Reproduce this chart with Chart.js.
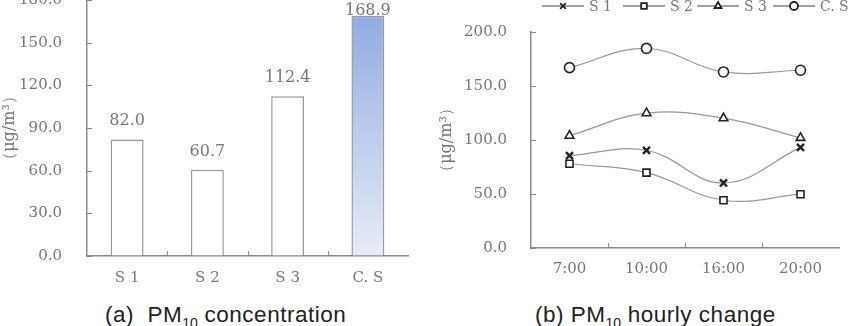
<!DOCTYPE html>
<html>
<head>
<meta charset="utf-8">
<script src="https://cdn.jsdelivr.net/npm/chart.js@4/dist/chart.umd.min.js"></script>
<style>
  body { margin: 0; background: #fff; width: 860px; height: 326px; overflow: hidden; position: relative; font-family: "Liberation Sans", Arial, sans-serif; }
  .box { position: absolute; width: 430px; height: 300px; }
  #boxA { left: 0; top: -12px; }
  #boxB { left: 430px; top: 0; }
  .cap { position: absolute; top: 304px; font-size: 22.5px; line-height: 22px; letter-spacing: 0.5px; color: #222; white-space: nowrap; }
  .cap sub { font-size: 14px; line-height: 0; letter-spacing: 0; }
</style>
</head>
<body>
<div class="box" id="boxA"><canvas id="barChart" width="430" height="300"></canvas></div>
<div class="box" id="boxB"><canvas id="lineChart" width="430" height="300"></canvas></div>
<div class="cap" style="left:105px">(a)&nbsp; PM<sub>10</sub> concentration</div>
<div class="cap" style="left:535px">(b) PM<sub>10</sub> hourly change</div>
<script>
// data
const sites = ["S 1", "S 2", "S 3", "C. S"]
const meanPM10 = [82.0, 60.7, 112.4, 168.9]
const hours = ["7:00", "10:00", "16:00", "20:00"]
const s1 = [85.5, 90.5, 60.2, 93.2]
const s2 = [78.0, 69.8, 44.2, 49.8]
const s3 = [104.0, 124.8, 120.2, 102.0]
const cs = [167.0, 184.8, 163.0, 164.6]
const seriesNames = ["S 1", "S 2", "S 3", "C. S"]

const tickFont = { family: "'DejaVu Serif', serif", size: 15 }
const grey = "#777"
const axisGrey = "#8a8a8a"
const unit = "（μg/m³）"

// short tick marks pointing into the plot, like the original
const innerTicks = {
  id: "innerTicks",
  afterDraw(chart) {
    const { ctx, chartArea: a } = chart
    const x = chart.scales.x, y = chart.scales.y
    ctx.save()
    ctx.strokeStyle = axisGrey
    ctx.lineWidth = 1
    ctx.beginPath()
    y.ticks.forEach((t, i) => {
      const py = Math.round(y.getPixelForTick(i)) + 0.5
      ctx.moveTo(a.left, py)
      ctx.lineTo(a.left + 5, py)
    })
    for (let i = 1; i < x.ticks.length; i++) {
      const px = Math.round((x.getPixelForTick(i - 1) + x.getPixelForTick(i)) / 2) + 0.5
      ctx.moveTo(px, a.bottom)
      ctx.lineTo(px, a.bottom - 5)
    }
    ctx.stroke()
    ctx.restore()
  }
}

// value labels above the bars
const barValues = {
  id: "barValues",
  afterDatasetsDraw(chart) {
    const { ctx } = chart
    const meta = chart.getDatasetMeta(0)
    ctx.save()
    ctx.font = "16px 'DejaVu Serif', serif"
    ctx.fillStyle = grey
    ctx.textAlign = "center"
    ctx.textBaseline = "alphabetic"
    meta.data.forEach((bar, i) => {
      const y = Math.max(bar.y - 14, 27)
      ctx.fillText(meanPM10[i].toFixed(1), bar.x, y)
    })
    ctx.restore()
  }
}

// legend: line with marker, then name
const lineLegend = {
  id: "lineLegend",
  afterDraw(chart) {
    const { ctx } = chart
    const starts = [112, 193, 267, 343]
    const y = 6
    ctx.save()
    chart.data.datasets.forEach((ds, i) => {
      const x0 = starts[i]
      ctx.strokeStyle = "#444"
      ctx.lineWidth = 1.2
      ctx.beginPath()
      ctx.moveTo(x0, y)
      ctx.lineTo(x0 + 42, y)
      ctx.stroke()
      ctx.strokeStyle = "#222"
      ctx.fillStyle = "#fff"
      ctx.lineWidth = 1.8
      if (Chart.helpers && Chart.helpers.drawPoint) {
        Chart.helpers.drawPoint(ctx, { pointStyle: ds.pointStyle, rotation: 0, radius: 4, borderWidth: 1.8 }, x0 + 21, y)
      }
      ctx.fillStyle = grey
      ctx.font = "14px 'DejaVu Serif', serif"
      ctx.textAlign = "left"
      ctx.textBaseline = "middle"
      ctx.fillText(ds.label, x0 + 47, y + 1)
    })
    ctx.restore()
  }
}

const yTitle = { display: true, text: unit, color: grey, font: { family: "'DejaVu Serif', serif", size: 16 }, padding: 0 }
// invisible tick marks push the labels away from the axis
const hiddenGrid = (len) => ({ display: true, drawOnChartArea: false, drawTicks: true, tickLength: len, tickColor: "rgba(0,0,0,0)" })

new Chart(document.getElementById("barChart").getContext("2d"), {
  type: "bar",
  data: {
    labels: sites,
    datasets: [{
      data: meanPM10,
      backgroundColor: (c) => {
        if (c.dataIndex !== 3) return "#fff"
        const a = c.chart.chartArea
        if (!a) return "#a9bde6"
        const g = c.chart.ctx.createLinearGradient(0, a.top, 0, a.bottom)
        g.addColorStop(0, "#8ca8df")
        g.addColorStop(1, "#e7ecf7")
        return g
      },
      borderColor: "#999",
      borderWidth: 1.5,
      barPercentage: 0.41,
      categoryPercentage: 1,
    }],
  },
  options: {
    responsive: false,
    animation: false,
    layout: { padding: { left: 0, top: 12, right: 22, bottom: 2 } },
    plugins: { legend: { display: false }, tooltip: { enabled: false } },
    scales: {
      x: {
        grid: { display: true, drawOnChartArea: false, drawTicks: false },
        border: { color: axisGrey, width: 1.5 },
        ticks: { color: grey, font: tickFont, padding: 13 },
        afterFit: (s) => { s.height = 30 },
      },
      y: {
        min: 0, max: 180,
        grid: hiddenGrid(22),
        border: { color: axisGrey, width: 1.5 },
        ticks: { stepSize: 30, color: grey, font: tickFont, padding: 3, callback: (v) => v.toFixed(1) },
        title: yTitle,
        afterFit: (s) => { s.width = 87 },
      },
    },
  },
  plugins: [innerTicks, barValues],
})

const lineStyle = { borderColor: "#999", borderWidth: 1.2, tension: 0.4, pointBorderColor: "#222", pointBackgroundColor: "#fff", pointBorderWidth: 1.6, pointRadius: 5 }

new Chart(document.getElementById("lineChart").getContext("2d"), {
  type: "line",
  data: {
    labels: hours,
    datasets: [
      { label: seriesNames[0], data: s1, pointStyle: "crossRot", ...lineStyle, pointBorderWidth: 2.4 },
      { label: seriesNames[1], data: s2, pointStyle: "rect", ...lineStyle },
      { label: seriesNames[2], data: s3, pointStyle: "triangle", ...lineStyle },
      { label: seriesNames[3], data: cs, pointStyle: "circle", ...lineStyle },
    ],
  },
  options: {
    responsive: false,
    animation: false,
    layout: { padding: { left: 0, top: 32, right: 21, bottom: 22 } },
    plugins: { legend: { display: false }, tooltip: { enabled: false } },
    scales: {
      x: {
        offset: true,
        grid: { display: true, offset: true, drawOnChartArea: false, drawTicks: false },
        border: { color: axisGrey, width: 1.5 },
        ticks: { color: grey, font: tickFont, padding: 12 },
        afterFit: (s) => { s.height = 30 },
      },
      y: {
        min: 0, max: 200,
        grid: hiddenGrid(21),
        border: { color: axisGrey, width: 1.5 },
        ticks: { stepSize: 50, color: grey, font: tickFont, padding: 3, callback: (v) => v.toFixed(1) },
        title: { ...yTitle, padding: { top: 7, bottom: 0 } },
        afterFit: (s) => { s.width = 101 },
      },
    },
  },
  plugins: [innerTicks, lineLegend],
})
</script>
</body>
</html>
